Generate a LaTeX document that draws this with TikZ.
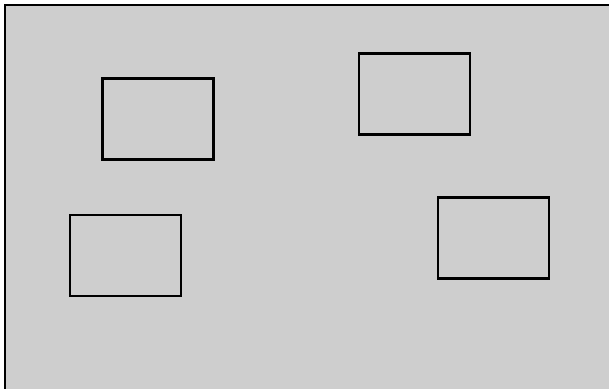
\documentclass[tikz,border=0pt]{standalone}
\begin{document}
\begin{tikzpicture}[x=0.75pt,y=-0.75pt,
  box/.style={draw=black, line width=2.1pt, inner sep=0pt, outer sep=0pt,
    minimum width=83.25pt, minimum height=60.75pt}]
\useasboundingbox (0,0) rectangle (609,389);
\fill[fill={rgb,255:red,206;green,206;blue,206}] (4,4) rectangle (609,389);
\draw[line width=1.6pt] (609,5) -- (5,5) -- (5,389);
\node[box] (r1) at (158,119) {};
\node[box] (r2) at (414.5,94) {};
\node[box] (r3) at (125.5,255.5) {};
\node[box] (r4) at (493.5,238) {};
\end{tikzpicture}
\end{document}
